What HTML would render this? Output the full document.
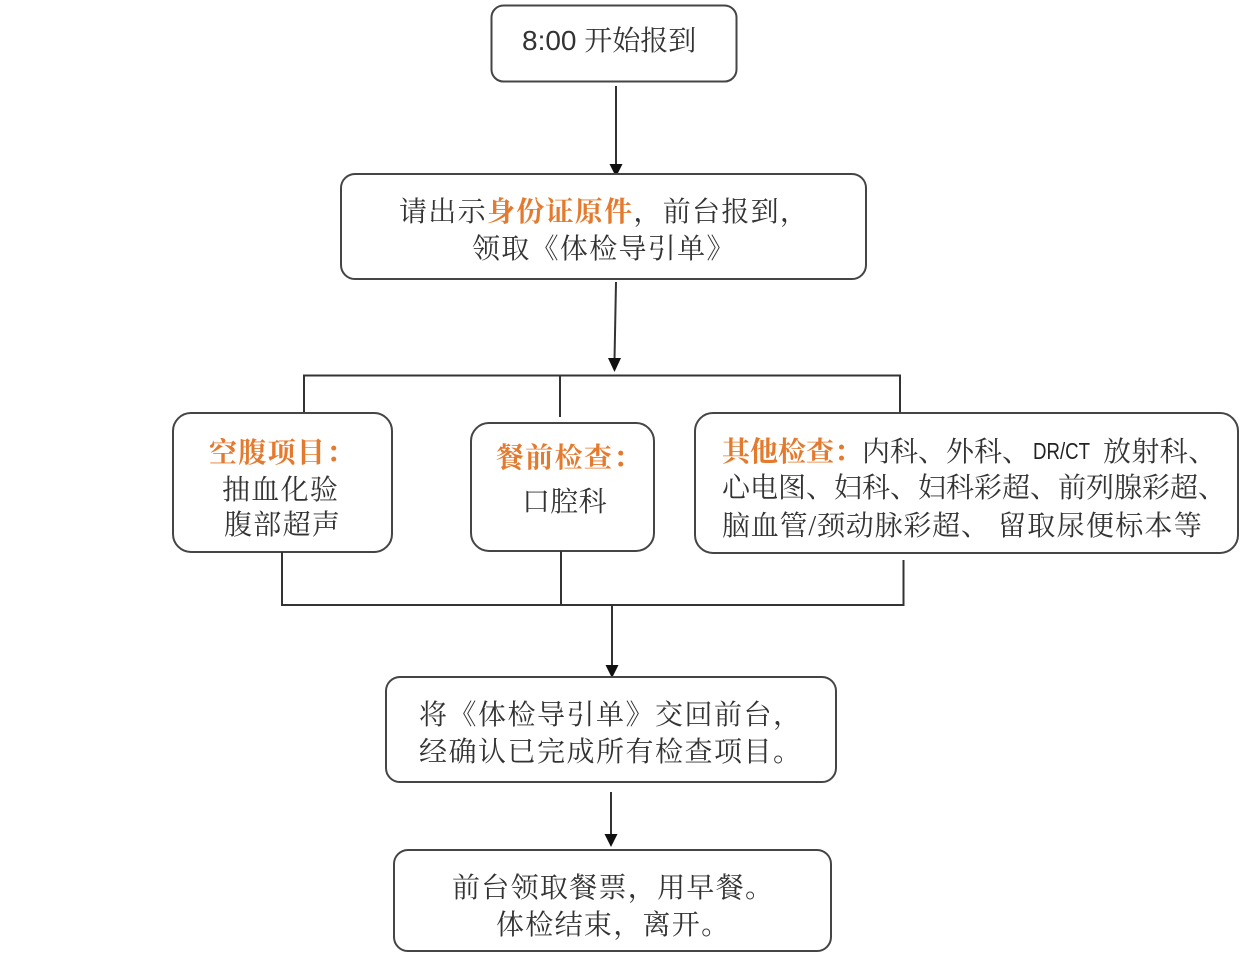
<!DOCTYPE html>
<html>
<head>
<meta charset="utf-8">
<style>
  html, body { margin:0; padding:0; background:#ffffff; }
  body { width:1250px; height:962px; overflow:hidden; }
  svg { display:block; }
  .t { font-family:"Liberation Serif","Noto Serif CJK SC","Noto Serif SC","Source Han Serif SC","Noto Sans CJK SC",serif; font-size:28px; fill:#333333; }
  .o { fill:#E47A2E; font-weight:bold; }
  .box { fill:#ffffff; stroke:#454545; stroke-width:2; }
  .ln { stroke:#333333; stroke-width:2; fill:none; }
  .ah { fill:#111111; }
</style>
</head>
<body>
<svg width="1250" height="962" viewBox="0 0 1250 962" xmlns="http://www.w3.org/2000/svg">
  <!-- Box 1 -->
  <rect class="box" x="491.5" y="5.5" width="245" height="76" rx="12" ry="12"/>
  <text class="t" x="522" y="50"><tspan font-family="Liberation Sans, sans-serif">8:00 </tspan><tspan>开始报到</tspan></text>

  <!-- Arrow 1 -->
  <line class="ln" x1="616" y1="86" x2="616" y2="166"/>
  <polygon class="ah" points="609.5,164 622.5,164 616,177"/>

  <!-- Box 2 -->
  <rect class="box" x="341" y="174" width="525" height="105" rx="14" ry="14"/>
  <text class="t" x="399" y="221" style="letter-spacing:1.3px">请出示<tspan class="o">身份证原件</tspan>，前台报到，</text>
  <text class="t" x="472" y="258" style="letter-spacing:1.3px">领取《体检导引单》</text>

  <!-- Arrow 2 -->
  <line class="ln" x1="616" y1="282" x2="614.5" y2="360"/>
  <polygon class="ah" points="608,358 621,358 614.5,372"/>

  <!-- Split connector -->
  <line class="ln" x1="303" y1="375.5" x2="901" y2="375.5"/>
  <line class="ln" x1="304" y1="375" x2="304" y2="413"/>
  <line class="ln" x1="560" y1="375" x2="560" y2="417"/>
  <line class="ln" x1="900" y1="375" x2="900" y2="413"/>

  <!-- Box 3 -->
  <rect class="box" x="173" y="413" width="219" height="139" rx="18" ry="18"/>
  <text class="t o" x="209" y="462" style="letter-spacing:1.3px">空腹项目：</text>
  <text class="t" x="222" y="499" style="letter-spacing:1.3px">抽血化验</text>
  <text class="t" x="224" y="534" style="letter-spacing:1.3px">腹部超声</text>

  <!-- Box 4 -->
  <rect class="box" x="471" y="423" width="183" height="128" rx="18" ry="18"/>
  <text class="t o" x="496" y="467" style="letter-spacing:1.3px">餐前检查：</text>
  <text class="t" x="522" y="511" style="letter-spacing:0.3px">口腔科</text>

  <!-- Box 5 -->
  <rect class="box" x="695" y="413" width="543" height="140" rx="18" ry="18"/>
  <text class="t" x="722" y="461"><tspan class="o">其他检查：</tspan>内科、外科、</text>
  <text x="1033" y="459" font-family="Liberation Sans, sans-serif" font-size="23" fill="#222222" textLength="57" lengthAdjust="spacingAndGlyphs">DR/CT</text>
  <text class="t" x="1103" y="461" style="letter-spacing:0.4px">放射科、</text>
  <text class="t" x="722" y="497">心电图、妇科、妇科彩超、前列腺彩超、</text>
  <text class="t" x="722" y="535" style="letter-spacing:0.8px">脑血管/颈动脉彩超、</text>
  <text class="t" x="998" y="535" style="letter-spacing:1.3px">留取尿便标本等</text>

  <!-- Merge connector -->
  <line class="ln" x1="282" y1="552" x2="282" y2="605"/>
  <line class="ln" x1="561" y1="551" x2="561" y2="605"/>
  <line class="ln" x1="903.5" y1="560" x2="903.5" y2="605"/>
  <line class="ln" x1="281" y1="605" x2="904.5" y2="605"/>

  <!-- Arrow 3 -->
  <line class="ln" x1="612" y1="605" x2="612" y2="667"/>
  <polygon class="ah" points="605.5,665 618.5,665 612,678"/>

  <!-- Box 6 -->
  <rect class="box" x="386" y="677" width="450" height="105" rx="14" ry="14"/>
  <text class="t" x="419" y="724" style="letter-spacing:1.5px">将《体检导引单》交回前台，</text>
  <text class="t" x="419" y="761" style="letter-spacing:1.5px">经确认已完成所有检查项目。</text>

  <!-- Arrow 4 -->
  <line class="ln" x1="611" y1="792" x2="611" y2="836"/>
  <polygon class="ah" points="604.5,834 617.5,834 611,847"/>

  <!-- Box 7 -->
  <rect class="box" x="394" y="850" width="437" height="101" rx="14" ry="14"/>
  <text class="t" x="452" y="897" style="letter-spacing:1.3px">前台领取餐票，用早餐。</text>
  <text class="t" x="496" y="934" style="letter-spacing:1.3px">体检结束，离开。</text>
</svg>
</body>
</html>
